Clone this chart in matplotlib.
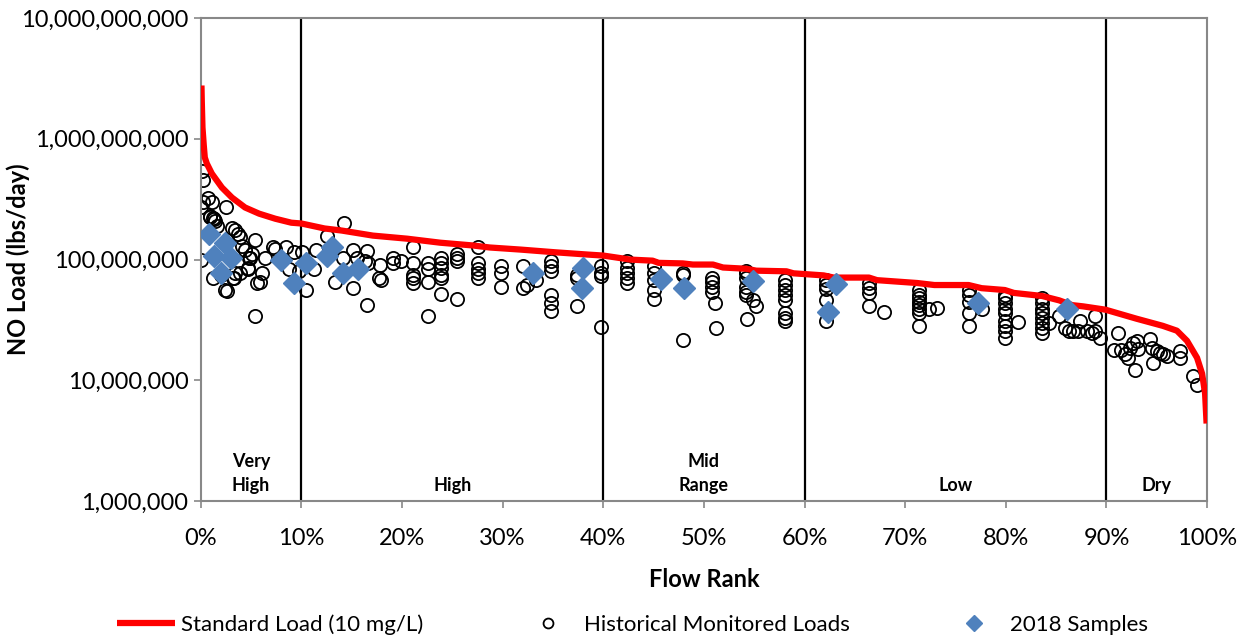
import matplotlib.pyplot as plt
import matplotlib.ticker as mticker
import numpy as np

plt.rcParams['font.family'] = ['Lato', 'DejaVu Sans']

# standard load curve (flow rank %, load in million lbs/day)
std_rank = [0.07, 0.1, 0.17, 0.3, 0.4, 0.6, 1.1, 2.1, 3.1, 4.4, 5.8, 7.4, 9.0, 10.0,
            12.3, 14.0, 17.1, 20.5, 23.8, 27.0, 28.7, 31.8, 35.2, 38.5, 40.0, 42.7,
            44.9, 45.5, 47.9, 48.9, 50.9, 51.9, 54.2, 55.2, 58.2, 58.9, 61.9, 62.9,
            66.4, 67.2, 71.2, 72.9, 76.3, 77.6, 79.9, 80.8, 83.6, 85.3, 86.6, 87.7,
            89.9, 93.0, 95.6, 97.0, 98.0, 99.0, 99.5, 99.8, 99.95]
std_load = [2760, 2070, 1240, 880, 700, 624, 515, 395, 326, 270, 240, 218, 202, 199,
            181, 174, 158, 149, 138, 131, 126, 121, 115, 110, 108, 100,
            98, 94, 93, 91, 91, 86, 84, 81, 80, 77, 74, 71,
            71, 67.6, 64, 61.6, 61.6, 58, 56, 53, 50, 46, 42, 41,
            38.5, 32.4, 28.3, 25.8, 21.3, 15.4, 11.4, 7.8, 4.4]

# historical monitored loads
hist_rank = [0.1, 0.2, 0.0, 0.2, 0.7, 1.1, 0.9, 1.2, 1.6, 2.5, 3.1, 3.7, 3.9, 5.4,
             7.2, 7.4, 8.5, 9.3, 10.1, 11.5, 12.5, 14.2, 0.0, 1.2, 2.0, 3.2, 3.9,
             4.7, 6.1, 5.6, 5.9, 6.4, 5.1, 4.4, 4.8, 8.8, 9.8, 10.5, 11.3, 13.3,
             14.1, 2.6, 5.4, 3.4, 3.4, 4.1, 4.9, 4.7, 3.3, 2.4, 0.9, 1.3, 1.4,
             15.1, 16.5, 16.3, 16.6, 15.5, 17.8, 17.7, 17.9, 15.1, 16.5,
             19.1, 19.1, 19.9, 21.1, 21.1, 21.1, 21.1, 21.1, 22.6, 22.6, 22.6, 22.6,
             23.9, 23.9, 23.9, 23.9, 23.9, 23.9, 25.5, 25.5, 25.5, 25.5,
             27.5, 27.5, 27.5, 27.5, 27.5, 29.8, 29.8, 29.8, 32.0, 32.0, 32.4, 33.3,
             34.8, 34.8, 34.8, 34.8, 34.8, 34.8, 37.4, 37.4, 37.4,
             39.8, 39.8, 39.8, 39.8,
             42.4, 42.4, 42.4, 42.4, 42.4, 45.0, 45.0, 45.0, 45.0, 45.0,
             47.9, 47.9, 47.9, 50.8, 50.8, 50.8, 50.8, 51.1, 51.2,
             54.2, 54.2, 54.2, 54.2, 54.2, 54.2, 54.9, 55.2, 54.3,
             58.1, 58.1, 58.1, 58.1, 58.1, 58.1, 58.1, 58.1,
             62.1, 62.1, 62.1, 62.1, 62.1, 66.4, 66.4, 66.4, 66.4, 67.9,
             71.4, 71.4, 71.4, 71.4, 71.4, 71.4, 71.4, 71.4, 72.4, 73.2,
             76.3, 76.3, 76.3, 76.3, 76.3, 77.6,
             79.9, 79.9, 79.9, 79.9, 79.9, 79.9, 79.9, 79.9, 79.9, 81.2,
             83.6, 83.6, 83.6, 83.6, 83.6, 83.6, 83.6, 83.6, 84.3,
             85.3, 85.9, 86.3, 87.4, 86.7, 87.2, 88.1, 88.6, 88.9, 89.4, 88.9,
             91.1, 90.7, 91.4, 91.8, 92.1, 92.3, 92.6, 93.0, 93.1, 92.8,
             94.3, 94.5, 94.6, 95.0, 95.3, 95.6, 96.0, 97.3, 97.3, 98.6, 99.0]
hist_load = [546, 460, 270, 297, 326, 297, 227, 222, 191, 270, 181, 164, 155, 144,
             126, 123, 126, 115, 115, 121, 158, 199, 100, 70, 74, 70, 77,
             84, 78, 64, 65, 104, 112, 119, 104, 84, 81, 56, 84, 65,
             104, 55, 34.3, 78, 176, 130, 104, 86, 71, 56, 231, 218, 210,
             119, 117, 98, 93, 104, 91, 71, 68, 58, 42,
             104, 93, 98, 128, 94, 74, 70, 64, 93, 84, 65, 34.3,
             104, 94, 86, 75, 70, 52, 112, 104, 98, 47,
             126, 94, 84, 77, 71, 88, 78, 59, 89, 58, 62, 68,
             98, 89, 81, 51, 43.5, 37.8, 71, 75, 41,
             89, 77, 73, 27.8,
             98, 86, 78, 71, 64, 88, 78, 67.6, 56, 47,
             78, 74, 21.7, 71, 65, 59, 54, 43.5, 27.3,
             81, 77, 70, 59, 54, 51, 46, 41, 32.4,
             67.6, 61.6, 56, 51, 46, 36.3, 33, 31.2,
             67.6, 61.6, 57, 46, 31.2, 64, 58, 53, 41, 37,
             56, 51, 48, 44.4, 42, 39, 36.3, 28.3, 39, 40,
             56, 51, 44.4, 36.3, 28.3, 39,
             51, 48, 43.5, 39, 36.3, 31.2, 28.3, 25.8, 22.6, 30.6,
             48, 43.5, 39, 36.3, 33, 30, 27.3, 24.8, 30,
             34.3, 27.3, 25.8, 31.2, 25.8, 25.8, 25.8, 24.8, 25.8, 22.6, 34.3,
             24.8, 17.9, 17.9, 16.6, 15.4, 18.6, 20.5, 21.3, 18.3, 12.2,
             22.1, 18.6, 14, 17.6, 16.9, 16.6, 16, 17.6, 15.4, 10.9, 9.2]

# 2018 samples
s2018_rank = [0.8, 2.4, 1.3, 3.0, 2.0, 8.0, 9.3, 10.5, 12.5, 13.0, 14.1, 15.6,
              33.0, 38.0, 37.9, 45.7, 48.0, 54.9, 63.1, 62.3, 77.2, 86.1]
s2018_load = [164, 138, 108, 104, 77, 100, 64, 93, 108, 126, 78, 83,
              77, 86, 58, 69, 58, 66, 63, 37, 43.5, 39]

zone_edges = [10, 40, 60, 90]
zone_names = ['Very\nHigh', 'High', 'Mid\nRange', 'Low', 'Dry']
zone_x = [5, 25, 50, 75, 95]

fig = plt.figure(figsize=(12.47, 6.41), dpi=100)
ax = fig.add_axes([0.161, 0.218, 0.807, 0.754])

for e in zone_edges:
    ax.axvline(e / 100, color='black', linewidth=1.6, zorder=1)

ax.plot(np.array(std_rank) / 100, np.array(std_load) * 1e6, color='#ff0000',
        linewidth=4.5, solid_capstyle='butt', label='Standard Load (10 mg/L)', zorder=3)
ax.plot(np.array(hist_rank) / 100, np.array(hist_load) * 1e6, 'o', markersize=9.5,
        markerfacecolor='none', markeredgecolor='black', markeredgewidth=1.3,
        label='Historical Monitored Loads', zorder=2)
ax.plot(np.array(s2018_rank) / 100, np.array(s2018_load) * 1e6, 'D', markersize=11,
        color='#4f81bd', label='2018 Samples', zorder=4)

# zone labels near the bottom of the plot
for name, zx in zip(zone_names, zone_x):
    ax.text(zx / 100, 0.058 if '\n' in name else 0.033, name, ha='center', va='center',
            fontsize=13, fontweight='bold', transform=ax.get_xaxis_transform(),
            linespacing=1.5)

ax.set_yscale('log')
ax.set_ylim(1e6, 1e10)
ax.set_xlim(0, 1)
ax.xaxis.set_major_locator(mticker.MultipleLocator(0.1))
ax.xaxis.set_major_formatter(mticker.PercentFormatter(1.0, decimals=0))
ax.yaxis.set_major_formatter(mticker.FuncFormatter(lambda v, p: f'{v:,.0f}'))
ax.yaxis.set_minor_locator(mticker.NullLocator())
ax.tick_params(axis='both', labelsize=17, length=5, color='#888888', width=1.2)
ax.tick_params(axis='x', pad=14)
ax.tick_params(axis='y', pad=4)
for s in ax.spines.values():
    s.set_color('#888888')
    s.set_linewidth(1.5)

ax.set_xlabel('Flow Rank', fontsize=17, fontweight='bold', labelpad=14)
ax.set_ylabel('NO Load (lbs/day)', fontsize=17, fontweight='bold')
ax.yaxis.set_label_coords(-0.17, 0.5)

fig.legend(loc='center', bbox_to_anchor=(0.507, 0.025), ncol=3, frameon=False,
           fontsize=16, columnspacing=4.3, handlelength=2.6, handletextpad=0.3,
           markerscale=0.75)

fig.savefig('out.png', dpi=100)
